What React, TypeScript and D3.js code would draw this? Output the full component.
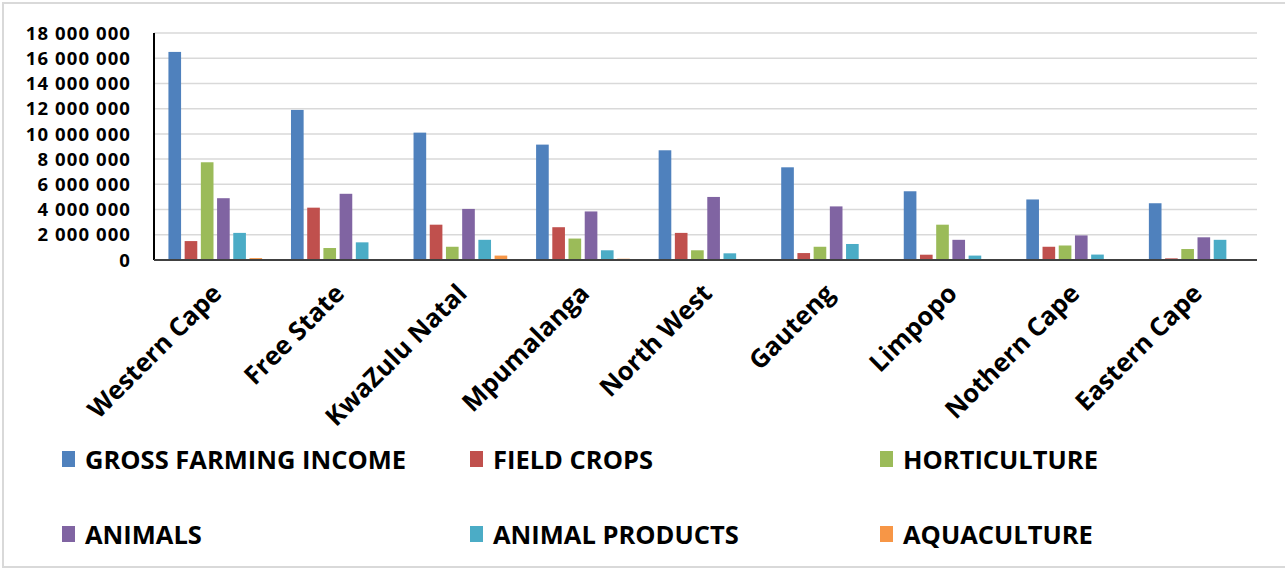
import React from 'react';
import * as d3 from 'd3';

// Provinces along the category axis
const provinces = [
  'Western Cape',
  'Free State',
  'KwaZulu Natal',
  'Mpumalanga',
  'North West',
  'Gauteng',
  'Limpopo',
  'Nothern Cape',
  'Eastern Cape',
];

const seriesNames = [
  'GROSS FARMING INCOME',
  'FIELD CROPS',
  'HORTICULTURE',
  'ANIMALS',
  'ANIMAL PRODUCTS',
  'AQUACULTURE',
];

// Values per province (same order as provinces)
const grossFarmingIncome = [16500000, 11900000, 10100000, 9150000, 8700000, 7350000, 5450000, 4800000, 4500000];
const fieldCrops = [1500000, 4150000, 2800000, 2600000, 2150000, 550000, 420000, 1050000, 130000];
const horticulture = [7750000, 950000, 1050000, 1700000, 770000, 1050000, 2800000, 1150000, 870000];
const animals = [4900000, 5250000, 4050000, 3850000, 5000000, 4250000, 1600000, 1950000, 1800000];
const animalProducts = [2150000, 1400000, 1600000, 770000, 530000, 1270000, 350000, 430000, 1600000];
const aquaculture = [150000, 20000, 350000, 100000, 0, 0, 0, 0, 0];

const yTicks = [0, 2000000, 4000000, 6000000, 8000000, 10000000, 12000000, 14000000, 16000000, 18000000];

const seriesColors = ['#4F81BD', '#C0504D', '#9BBB59', '#8064A2', '#4BACC6', '#F79646'];

const seriesValues = [grossFarmingIncome, fieldCrops, horticulture, animals, animalProducts, aquaculture];

const WIDTH = 1285;
const HEIGHT = 570;
const PLOT_LEFT = 154;
const PLOT_RIGHT = 1257;
const PLOT_TOP = 33;
const PLOT_BOTTOM = 260;
const FONT = "'Open Sans', 'Noto Sans', sans-serif";

const formatTick = (v: number) => d3.format(',')(v).replace(/,/g, ' ');

export default function App() {
  const y = d3.scaleLinear().domain([0, 18000000]).range([PLOT_BOTTOM, PLOT_TOP]);
  const x0 = d3.scaleBand<string>().domain(provinces).range([PLOT_LEFT, PLOT_RIGHT]).paddingInner(0).paddingOuter(0);
  const x1 = d3
    .scaleBand<string>()
    .domain(seriesNames)
    .range([0, x0.bandwidth()])
    .paddingInner(0.22)
    .paddingOuter(0.89);

  const legendCols = [62, 470, 880];
  const legendRows = [469, 544];

  return (
    <svg
      width={WIDTH}
      height={HEIGHT}
      style={{ position: 'absolute', left: 0, top: 0, background: '#fff' }}
      fontFamily={FONT}
    >
      <rect x={0} y={0} width={WIDTH} height={HEIGHT} fill="#fff" />
      <rect x={3} y={3} width={WIDTH + 10} height={564} fill="none" stroke="#d9d9d9" strokeWidth={2} />

      {/* gridlines */}
      {yTicks.slice(1).map((t) => (
        <line key={t} x1={PLOT_LEFT} x2={PLOT_RIGHT} y1={y(t)} y2={y(t)} stroke="#d9d9d9" strokeWidth={1.5} />
      ))}

      {/* y tick labels */}
      {yTicks.map((t) => (
        <text
          key={t}
          x={131}
          y={y(t)}
          dy="0.36em"
          textAnchor="end"
          fontSize={18.5}
          letterSpacing={1.1}
          fontWeight={700}
          fill="#000"
        >
          {formatTick(t)}
        </text>
      ))}

      {/* bars */}
      {provinces.map((p, i) => (
        <g key={p} transform={`translate(${x0(p)},0)`}>
          {seriesNames.map((s, j) => {
            const v = seriesValues[j][i];
            return (
              <rect
                key={s}
                x={x1(s)}
                y={y(v)}
                width={x1.bandwidth()}
                height={PLOT_BOTTOM - y(v)}
                fill={seriesColors[j]}
              />
            );
          })}
        </g>
      ))}

      {/* axes */}
      <line x1={PLOT_LEFT} x2={PLOT_LEFT} y1={PLOT_TOP} y2={PLOT_BOTTOM} stroke="#000" strokeWidth={2} />
      <line x1={PLOT_LEFT} x2={PLOT_RIGHT} y1={PLOT_BOTTOM} y2={PLOT_BOTTOM} stroke="#404040" strokeWidth={2} />

      {/* category labels */}
      {provinces.map((p) => {
        const cx = (x0(p) as number) + x0.bandwidth() / 2;
        return (
          <text
            key={p}
            transform={`translate(${cx + 8},${295}) rotate(-45)`}
            textAnchor="end"
            fontSize={25.5}
            fontWeight={700}
            fill="#000"
          >
            {p}
          </text>
        );
      })}

      {/* legend */}
      {seriesNames.map((s, j) => {
        const col = j % 3;
        const row = Math.floor(j / 3);
        const lx = legendCols[col];
        const ly = legendRows[row];
        return (
          <g key={s}>
            <rect x={lx} y={ly - 18} width={13} height={16} fill={seriesColors[j]} />
            <text x={lx + 23} y={ly} fontSize={25.5} fontWeight={700} fill="#000">
              {s}
            </text>
          </g>
        );
      })}
    </svg>
  );
}
